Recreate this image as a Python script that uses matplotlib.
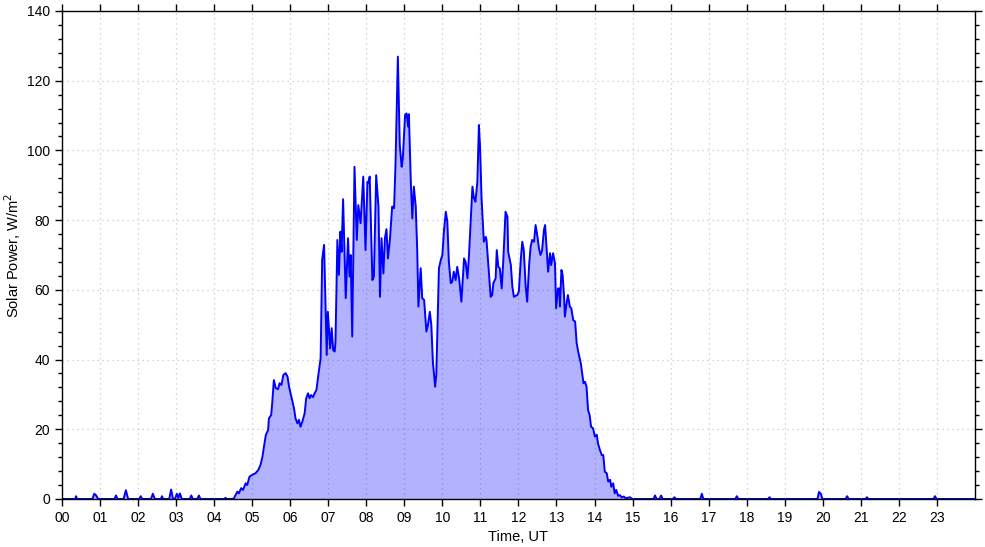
import matplotlib
matplotlib.use("Agg")
import matplotlib.pyplot as plt
from matplotlib.ticker import MultipleLocator, AutoMinorLocator

plt.rcParams['font.family'] = ['Liberation Sans', 'DejaVu Sans']

# time in decimal hours (UT), solar power in W/m^2
hours = [
    0.00, 0.35, 0.37, 0.40, 0.80, 0.85, 0.90, 0.95, 1.38, 1.42, 1.46,
    1.62, 1.68, 1.74, 2.03, 2.07, 2.11, 2.34, 2.39, 2.44, 2.60, 2.63, 2.66,
    2.82, 2.87, 2.92, 2.97, 3.02, 3.06, 3.10, 3.15, 3.36, 3.40, 3.44, 3.56,
    3.60, 3.64, 4.26, 4.30, 4.34, 4.48,
    4.52, 4.61, 4.65, 4.71, 4.76, 4.83, 4.87, 4.93, 5.00, 5.09, 5.16, 5.22,
    5.27, 5.31, 5.36, 5.42, 5.44, 5.50, 5.53, 5.57, 5.62, 5.68, 5.72, 5.77,
    5.82, 5.88, 5.93, 5.97, 6.03, 6.10, 6.14, 6.19, 6.23, 6.27, 6.32, 6.38,
    6.42, 6.47, 6.51, 6.55, 6.60, 6.64, 6.69, 6.74, 6.80, 6.84, 6.89, 6.96,
    6.99, 7.05, 7.09, 7.13, 7.17, 7.19, 7.24, 7.28, 7.32, 7.35, 7.39, 7.46,
    7.52, 7.56, 7.59, 7.63, 7.69, 7.75, 7.79, 7.85, 7.92, 7.98, 8.03, 8.05,
    8.09, 8.16, 8.20, 8.26, 8.32, 8.36, 8.40, 8.45, 8.49, 8.53, 8.57, 8.62,
    8.68, 8.73, 8.77, 8.83, 8.88, 8.93, 8.96, 9.02, 9.06, 9.10, 9.12, 9.17,
    9.21, 9.25, 9.30, 9.34, 9.37, 9.43, 9.47, 9.52, 9.58, 9.62, 9.67, 9.71,
    9.75, 9.81, 9.84, 9.91, 9.96, 10.00, 10.04, 10.09, 10.13, 10.17, 10.22,
    10.26, 10.30, 10.35, 10.39, 10.44, 10.50, 10.57, 10.61, 10.66, 10.70,
    10.79, 10.83, 10.87, 10.92, 10.96, 10.99, 11.03, 11.09, 11.14, 11.16,
    11.22, 11.27, 11.31, 11.34, 11.40, 11.43, 11.47, 11.51, 11.56, 11.60,
    11.66, 11.71, 11.73, 11.80, 11.84, 11.88, 11.93, 11.97, 12.01, 12.06,
    12.10, 12.14, 12.19, 12.23, 12.28, 12.32, 12.36, 12.41, 12.45, 12.50,
    12.54, 12.58, 12.62, 12.67, 12.70, 12.74, 12.78, 12.83, 12.86, 12.91,
    12.96, 12.99, 13.04, 13.07, 13.09, 13.13, 13.16, 13.20, 13.22, 13.26,
    13.30, 13.35, 13.39, 13.44, 13.49, 13.53, 13.57, 13.64, 13.71, 13.75,
    13.79, 13.83, 13.87, 13.91, 13.96, 14.01, 14.06, 14.09, 14.14, 14.19,
    14.23, 14.27, 14.32, 14.36, 14.41, 14.44, 14.49, 14.53, 14.57, 14.62,
    14.67, 14.71, 14.77, 14.82, 14.93, 14.99,
    15.55, 15.59, 15.63, 15.71, 15.75, 15.79, 16.06, 16.10, 16.14, 16.78,
    16.82, 16.86, 17.70, 17.74, 17.78, 18.56, 18.60, 18.64, 19.86, 19.90,
    19.95, 19.99, 20.60, 20.64, 20.68, 21.12, 21.16, 21.20, 22.91, 22.95,
    22.99, 24.00,
]
power = [
    0.0, 0.0, 0.8, 0.0, 0.0, 1.5, 1.0, 0.0, 0.0, 1.0, 0.0,
    0.0, 2.5, 0.0, 0.0, 0.8, 0.0, 0.0, 1.5, 0.0, 0.0, 0.8, 0.0,
    0.0, 2.7, 0.0, 0.0, 1.5, 0.3, 1.6, 0.0, 0.0, 1.0, 0.0, 0.0,
    1.0, 0.0, 0.0, 0.3, 0.0, 0.0,
    0.2, 2.1, 1.6, 3.1, 2.6, 4.5, 4.0, 6.4, 6.9, 7.4, 8.3, 9.8,
    12.1, 15.0, 18.4, 19.8, 23.1, 24.1, 27.9, 34.1, 31.8, 31.5, 33.2, 32.7,
    35.6, 36.1, 35.1, 32.2, 29.3, 26.0, 23.1, 21.7, 22.7, 20.7, 22.2, 24.6,
    28.9, 30.3, 28.9, 29.8, 29.2, 30.3, 31.3, 35.6, 40.4, 68.6, 72.9, 41.3,
    53.7, 43.2, 49.0, 42.7, 42.3, 45.1, 74.3, 64.3, 76.7, 70.9, 86.0, 57.6,
    74.8, 63.8, 70.0, 46.6, 95.3, 74.3, 84.3, 79.1, 92.5, 71.4, 91.0, 90.6,
    92.5, 62.8, 63.8, 92.9, 83.9, 58.0, 74.8, 64.7, 74.8, 77.4, 69.0, 74.3,
    83.9, 83.4, 96.8, 126.9, 101.5, 95.3, 97.7, 110.2, 110.6, 106.8, 110.4, 91.0,
    80.5, 89.6, 83.9, 70.9, 55.2, 66.2, 57.6, 57.1, 48.0, 49.9, 53.7, 49.9,
    39.4, 32.2, 35.6, 66.2, 68.6, 70.0, 76.7, 82.4, 79.6, 68.1, 61.9,
    62.3, 65.2, 62.8, 66.6, 63.3, 56.6, 69.0, 68.0, 63.3, 70.0,
    89.6, 86.3, 85.3, 91.0, 107.3, 101.1, 86.3, 73.8, 75.2, 74.3,
    65.2, 58.0, 58.5, 61.9, 63.3, 71.4, 66.6, 66.2, 60.4, 68.1,
    82.4, 81.0, 70.9, 67.1, 60.9, 58.0, 58.3, 58.5, 59.5, 68.6,
    73.8, 71.4, 60.9, 56.6, 67.1, 72.4, 74.3, 73.8, 78.6, 75.2,
    71.9, 70.0, 71.2, 77.2, 78.6, 71.9, 65.2, 70.5, 67.1, 70.5,
    67.6, 54.7, 60.4, 60.4, 55.2, 65.7, 64.3, 58.0, 52.3, 55.7,
    58.5, 55.2, 54.7, 51.3, 50.9, 44.7, 42.3, 38.9, 33.2, 33.6,
    32.2, 25.5, 24.1, 20.7, 20.3, 17.9, 18.4, 16.0, 14.1, 12.6,
    12.6, 7.8, 7.4, 5.0, 5.5, 3.5, 4.5, 1.6, 2.6, 0.9,
    1.1, 0.5, 0.7, 0.2, 0.5, 0.0,
    0.0, 1.0, 0.0, 0.0, 1.0, 0.0, 0.0, 0.5, 0.0, 0.0,
    1.5, 0.0, 0.0, 0.8, 0.0, 0.0, 0.5, 0.0, 0.0, 2.0,
    1.5, 0.0, 0.0, 0.8, 0.0, 0.0, 0.5, 0.0, 0.0, 0.8,
    0.0, 0.0,
]

hour_labels = ['%02d' % h for h in range(24)]

fig = plt.figure(figsize=(9.85, 5.47), dpi=100)
ax = fig.add_axes([0.0629, 0.0878, 0.9269, 0.8921])

ax.fill_between(hours, power, 0, color='#0000ff', alpha=0.3, linewidth=0)
ax.plot(hours, power, color='#0000ff', linewidth=1.4)

ax.set_xlim(0, 24)
ax.set_ylim(0, 140)
ax.set_xticks(range(24))
ax.set_xticklabels(hour_labels)
ax.yaxis.set_major_locator(MultipleLocator(20))
ax.yaxis.set_minor_locator(AutoMinorLocator(5))

ax.tick_params(which='both', direction='out', top=True, right=True,
               labelsize=10, colors='black')
ax.tick_params(which='major', length=5, width=1)
ax.tick_params(which='minor', length=3, width=1)
for s in ax.spines.values():
    s.set_linewidth(1)

ax.grid(which='major', linestyle=(0, (1, 3)), color='#c8c8c8', linewidth=0.9)
ax.set_axisbelow(True)

ax.set_xlabel('Time, UT', fontsize=10.5, labelpad=4)
ax.set_ylabel('Solar Power, W/m$^2$', fontsize=10.5, labelpad=3)

fig.savefig('out.png', dpi=100)
